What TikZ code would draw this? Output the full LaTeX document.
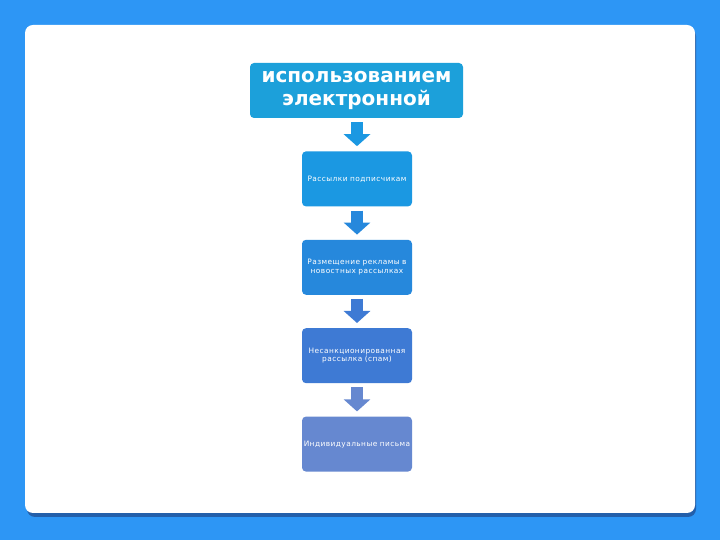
\documentclass[tikz,border=0pt]{standalone}
\usepackage{fontspec}
\setmainfont{DejaVu Sans}
\newfontfamily\stepfont[LetterSpace=6]{DejaVu Sans}
\usetikzlibrary{arrows.meta, positioning}
\definecolor{slideblue}{RGB}{45,150,245}
\definecolor{shadowblue}{RGB}{35,95,170}
\definecolor{titleblue}{RGB}{28,160,218}
\definecolor{stepA}{RGB}{27,152,226}
\definecolor{stepB}{RGB}{38,136,220}
\definecolor{stepC}{RGB}{62,122,212}
\definecolor{stepD}{RGB}{102,136,208}

\begin{document}
\begin{tikzpicture}[
    x=1pt, y=1pt,
    node distance=33pt,
    titlebox/.style={rectangle, fill=titleblue, text=white, minimum width=213pt, minimum height=55pt, align=center, rounded corners=4pt, font=\fontsize{20}{23}\selectfont\bfseries},
    stepbox/.style={rectangle, text=white, text width=108pt, minimum width=110pt, minimum height=55pt, align=center, rounded corners=4pt, inner xsep=1pt, font=\stepfont\fontsize{7.4}{8.5}\selectfont},
    blockarrow/.style={line width=12pt, -{Triangle[width=26pt, length=12pt]}, shorten <=4pt, shorten >=5pt}
]

% slide background and card
\fill[slideblue] (0,0) rectangle (720,540);
\fill[shadowblue, rounded corners=8pt] (27,23) rectangle (696,512);
\fill[white, rounded corners=8pt] (25,27) rectangle (695,515);

% title
\node[titlebox] (title) at (356.5,449.5) {использованием\\электронной};

% steps
\node[stepbox, fill=stepA, below=of title.south, anchor=north, xshift=0.5pt] (subscribers) {Рассылки подписчикам};
\node[stepbox, fill=stepB, below=of subscribers] (newsletters) {Размещение рекламы в новостных рассылках};
\node[stepbox, fill=stepC, below=of newsletters] (spam) {Несанкционированная рассылка (спам)};
\node[stepbox, fill=stepD, below=of spam] (personal) {Индивидуальные письма};

% arrows
\draw[blockarrow, stepA] (subscribers.north |- title.south) -- (subscribers.north);
\draw[blockarrow, stepB] (subscribers) -- (newsletters);
\draw[blockarrow, stepC] (newsletters) -- (spam);
\draw[blockarrow, stepD] (spam) -- (personal);

\end{tikzpicture}
\end{document}
